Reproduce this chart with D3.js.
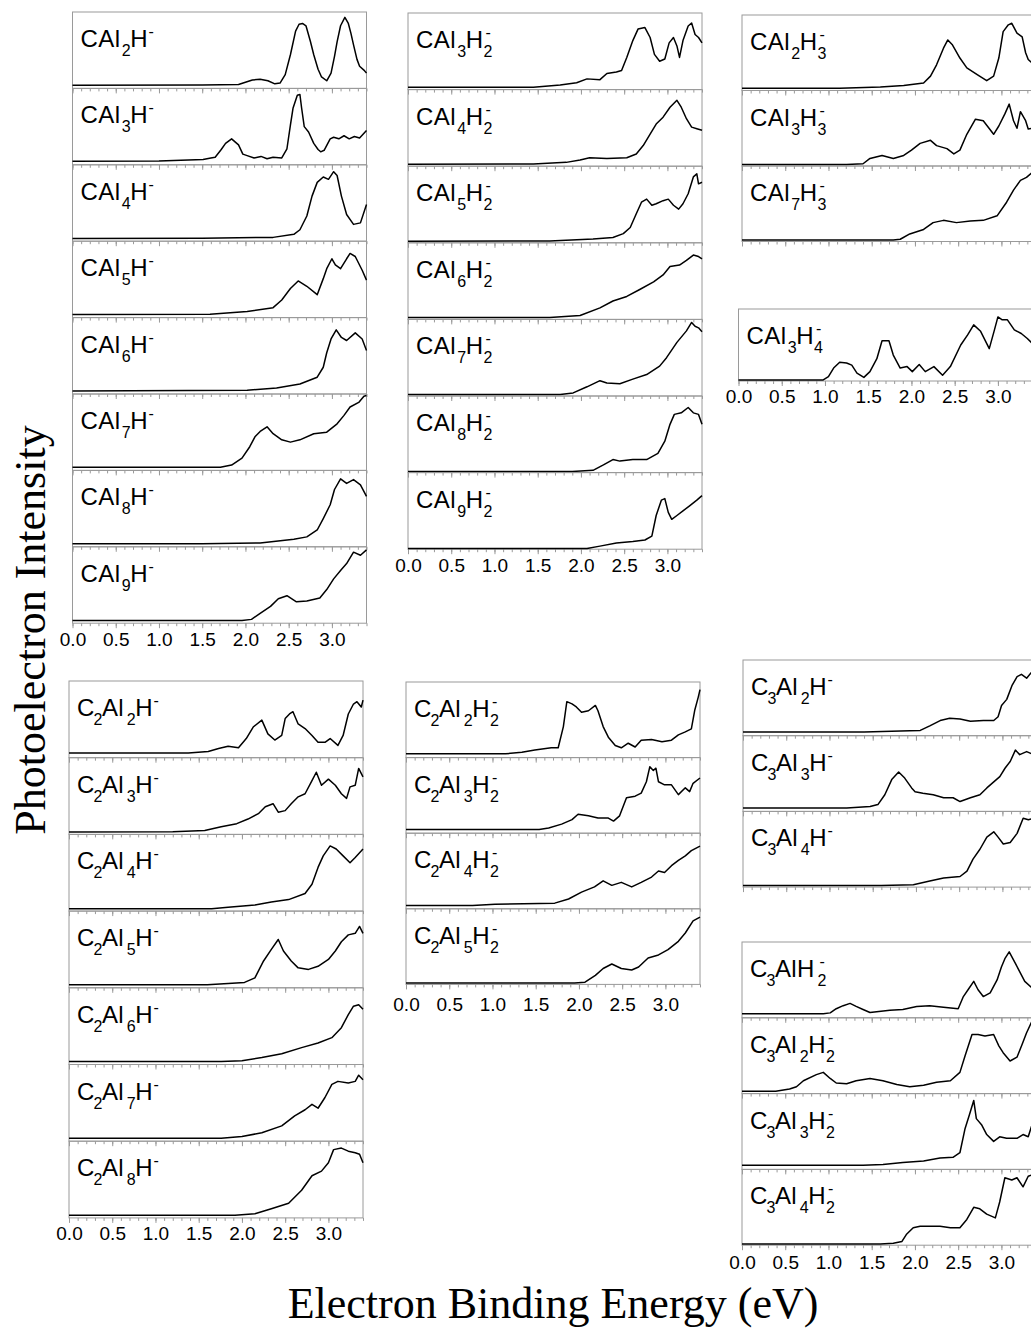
<!DOCTYPE html>
<html>
<head>
<meta charset="utf-8">
<script src="https://cdn.jsdelivr.net/npm/d3@7"></script>
<style>
  body { margin: 0; background: #fff; }
  svg { display: block; }
</style>
</head>
<body>
<svg id="chart"></svg>
<script>
// spectra: [binding energy (eV), relative intensity]
var cal2h = [[0,0.04],[1.5,0.045],[1.92,0.05],[2.0,0.08],[2.08,0.11],[2.17,0.12],[2.26,0.1],[2.34,0.06],[2.4,0.07],[2.46,0.18],[2.52,0.44],[2.58,0.75],[2.62,0.84],[2.66,0.85],[2.7,0.82],[2.75,0.62],[2.79,0.44],[2.84,0.25],[2.88,0.15],[2.94,0.1],[2.99,0.2],[3.03,0.42],[3.06,0.61],[3.1,0.82],[3.15,0.93],[3.19,0.85],[3.22,0.72],[3.25,0.57],[3.29,0.38],[3.32,0.29],[3.37,0.24],[3.4,0.2]];
var cal3h = [[0,0.045],[1.0,0.05],[1.51,0.07],[1.6,0.09],[1.65,0.1],[1.72,0.2],[1.77,0.28],[1.84,0.34],[1.88,0.3],[1.92,0.26],[1.97,0.14],[2.02,0.12],[2.1,0.09],[2.18,0.11],[2.25,0.08],[2.32,0.1],[2.42,0.09],[2.48,0.21],[2.52,0.52],[2.55,0.74],[2.6,0.91],[2.63,0.92],[2.65,0.74],[2.68,0.5],[2.73,0.43],[2.79,0.28],[2.84,0.2],[2.87,0.17],[2.91,0.19],[2.98,0.34],[3.02,0.36],[3.08,0.34],[3.14,0.38],[3.2,0.34],[3.26,0.37],[3.32,0.35],[3.4,0.45]];
var cal4h = [[0,0.035],[1.5,0.04],[2.32,0.05],[2.56,0.09],[2.63,0.15],[2.71,0.33],[2.77,0.59],[2.83,0.77],[2.9,0.84],[2.96,0.81],[3.02,0.91],[3.06,0.86],[3.11,0.59],[3.17,0.35],[3.25,0.22],[3.33,0.24],[3.4,0.48]];
var cal5h = [[0,0.04],[1.59,0.045],[2.02,0.08],[2.32,0.13],[2.42,0.23],[2.52,0.38],[2.61,0.48],[2.71,0.41],[2.83,0.3],[2.9,0.51],[2.94,0.64],[3.0,0.77],[3.04,0.69],[3.1,0.64],[3.17,0.77],[3.21,0.84],[3.27,0.8],[3.35,0.62],[3.4,0.49]];
var cal6h = [[0,0.04],[2.02,0.05],[2.36,0.08],[2.63,0.13],[2.83,0.22],[2.9,0.35],[2.94,0.54],[2.99,0.72],[3.05,0.84],[3.11,0.74],[3.17,0.7],[3.27,0.8],[3.35,0.72],[3.4,0.57]];
var cal7h = [[0,0.04],[1.71,0.04],[1.84,0.07],[1.96,0.16],[2.05,0.31],[2.11,0.44],[2.17,0.51],[2.25,0.57],[2.32,0.48],[2.42,0.4],[2.52,0.37],[2.63,0.4],[2.79,0.48],[2.94,0.5],[3.06,0.61],[3.14,0.72],[3.21,0.83],[3.31,0.89],[3.37,0.97],[3.4,0.98]];
var cal8h = [[0,0.04],[1.5,0.04],[2.17,0.05],[2.56,0.1],[2.71,0.13],[2.83,0.22],[2.9,0.37],[2.98,0.55],[3.03,0.75],[3.1,0.89],[3.17,0.83],[3.25,0.88],[3.33,0.81],[3.4,0.66]];
var cal9h = [[0,0.035],[1.96,0.035],[2.07,0.05],[2.17,0.13],[2.29,0.22],[2.38,0.32],[2.48,0.36],[2.59,0.28],[2.71,0.29],[2.86,0.33],[2.94,0.44],[3.02,0.58],[3.1,0.69],[3.17,0.78],[3.25,0.93],[3.33,0.89],[3.4,0.96]];

var cal3h2 = [[0,0.03],[1.45,0.03],[1.76,0.06],[1.95,0.09],[2.07,0.14],[2.22,0.13],[2.3,0.21],[2.41,0.23],[2.47,0.25],[2.53,0.42],[2.6,0.64],[2.66,0.79],[2.74,0.81],[2.8,0.68],[2.85,0.46],[2.91,0.37],[2.97,0.4],[3.02,0.61],[3.07,0.68],[3.11,0.57],[3.14,0.42],[3.18,0.64],[3.24,0.83],[3.28,0.87],[3.32,0.72],[3.36,0.68],[3.4,0.61]];
var cal4h2 = [[0,0.025],[1.45,0.03],[1.83,0.05],[1.99,0.08],[2.1,0.11],[2.3,0.1],[2.53,0.11],[2.64,0.16],[2.72,0.27],[2.8,0.42],[2.87,0.55],[2.95,0.64],[3.03,0.77],[3.11,0.86],[3.16,0.77],[3.22,0.62],[3.28,0.51],[3.34,0.49],[3.4,0.47]];
var cal5h2 = [[0,0.02],[1.64,0.025],[2.14,0.05],[2.37,0.07],[2.49,0.12],[2.57,0.2],[2.64,0.38],[2.7,0.53],[2.76,0.57],[2.82,0.49],[2.87,0.51],[2.95,0.55],[3.01,0.57],[3.07,0.49],[3.13,0.44],[3.18,0.51],[3.24,0.64],[3.3,0.86],[3.34,0.9],[3.36,0.77],[3.4,0.79]];
var cal6h2 = [[0,0.025],[1.64,0.025],[1.99,0.05],[2.22,0.15],[2.37,0.24],[2.53,0.3],[2.68,0.39],[2.84,0.49],[2.95,0.58],[3.03,0.69],[3.14,0.71],[3.22,0.77],[3.3,0.84],[3.36,0.82],[3.4,0.79]];
var cal7h2 = [[0,0.02],[1.76,0.02],[1.91,0.04],[2.07,0.12],[2.22,0.2],[2.3,0.17],[2.45,0.16],[2.6,0.22],[2.76,0.28],[2.91,0.39],[2.99,0.5],[3.11,0.7],[3.22,0.85],[3.28,0.96],[3.32,0.91],[3.36,0.89],[3.4,0.84]];
var cal8h2 = [[0,0.015],[1.9,0.015],[2.14,0.03],[2.26,0.1],[2.37,0.17],[2.45,0.15],[2.6,0.17],[2.76,0.17],[2.89,0.25],[2.97,0.41],[3.03,0.63],[3.08,0.76],[3.16,0.78],[3.24,0.85],[3.3,0.78],[3.36,0.76],[3.4,0.63]];
var cal9h2 = [[0,0.01],[2.07,0.01],[2.22,0.04],[2.41,0.08],[2.6,0.1],[2.74,0.12],[2.82,0.17],[2.87,0.44],[2.93,0.64],[2.97,0.66],[3.01,0.48],[3.05,0.39],[3.11,0.44],[3.18,0.5],[3.26,0.57],[3.34,0.64],[3.4,0.7]];

var cal2h3 = [[0,0.03],[1.13,0.03],[1.6,0.045],[1.87,0.065],[2.1,0.1],[2.18,0.19],[2.25,0.34],[2.33,0.56],[2.38,0.67],[2.43,0.61],[2.52,0.43],[2.6,0.3],[2.72,0.21],[2.83,0.13],[2.91,0.19],[2.97,0.43],[3.02,0.78],[3.08,0.87],[3.12,0.89],[3.18,0.76],[3.24,0.71],[3.28,0.5],[3.31,0.41],[3.36,0.36]];
var cal3h3 = [[0,0.02],[1.21,0.02],[1.4,0.03],[1.48,0.1],[1.62,0.14],[1.75,0.1],[1.87,0.14],[1.96,0.21],[2.06,0.3],[2.18,0.34],[2.25,0.27],[2.37,0.23],[2.45,0.16],[2.52,0.21],[2.6,0.42],[2.7,0.62],[2.79,0.6],[2.85,0.51],[2.91,0.42],[2.97,0.53],[3.04,0.69],[3.09,0.82],[3.14,0.6],[3.18,0.5],[3.22,0.72],[3.28,0.6],[3.31,0.49],[3.36,0.5]];
var cal7h3 = [[0,0.02],[1.75,0.02],[1.83,0.03],[1.94,0.1],[2.1,0.16],[2.21,0.25],[2.33,0.28],[2.48,0.25],[2.64,0.27],[2.79,0.28],[2.95,0.34],[3.06,0.52],[3.14,0.68],[3.22,0.81],[3.29,0.85],[3.36,0.92]];
var cal3h4 = [[0,0.015],[0.98,0.015],[1.04,0.06],[1.1,0.18],[1.17,0.26],[1.25,0.25],[1.31,0.22],[1.37,0.11],[1.45,0.05],[1.52,0.13],[1.6,0.31],[1.66,0.56],[1.74,0.56],[1.79,0.36],[1.87,0.18],[1.95,0.2],[2.01,0.13],[2.09,0.23],[2.16,0.13],[2.26,0.2],[2.36,0.08],[2.45,0.2],[2.57,0.5],[2.65,0.64],[2.72,0.78],[2.8,0.69],[2.9,0.45],[2.96,0.71],[3.0,0.89],[3.05,0.85],[3.11,0.85],[3.19,0.71],[3.27,0.66],[3.34,0.59],[3.4,0.52]];

var c2al2h = [[0,0.06],[1.38,0.06],[1.61,0.08],[1.73,0.12],[1.84,0.15],[1.96,0.13],[2.05,0.25],[2.13,0.4],[2.23,0.49],[2.3,0.31],[2.38,0.23],[2.46,0.29],[2.5,0.51],[2.55,0.57],[2.59,0.6],[2.65,0.44],[2.73,0.38],[2.81,0.29],[2.88,0.2],[2.96,0.2],[3.02,0.25],[3.11,0.16],[3.17,0.29],[3.23,0.57],[3.29,0.7],[3.33,0.73],[3.38,0.66],[3.4,0.75]];
var c2al3h = [[0,0.03],[1.2,0.035],[1.57,0.05],[1.76,0.1],[1.94,0.14],[2.07,0.2],[2.19,0.27],[2.27,0.36],[2.36,0.4],[2.42,0.29],[2.5,0.31],[2.57,0.4],[2.65,0.49],[2.73,0.53],[2.81,0.7],[2.86,0.81],[2.92,0.64],[3.0,0.72],[3.08,0.64],[3.15,0.53],[3.21,0.47],[3.25,0.62],[3.31,0.64],[3.35,0.86],[3.4,0.75]];
var c2al4h = [[0,0.03],[1.65,0.03],[1.84,0.05],[2.15,0.08],[2.34,0.12],[2.54,0.15],[2.73,0.23],[2.81,0.35],[2.88,0.57],[2.94,0.72],[3.02,0.85],[3.09,0.81],[3.17,0.72],[3.25,0.63],[3.31,0.7],[3.4,0.81]];
var c2al5h = [[0,0.04],[1.6,0.04],[1.84,0.055],[2.03,0.07],[2.15,0.13],[2.25,0.35],[2.34,0.5],[2.42,0.63],[2.48,0.48],[2.57,0.35],[2.65,0.26],[2.77,0.24],[2.88,0.28],[3.0,0.37],[3.08,0.48],[3.15,0.6],[3.23,0.69],[3.31,0.71],[3.36,0.8],[3.4,0.71]];
var c2al6h = [[0,0.04],[1.76,0.04],[2.0,0.05],[2.23,0.09],[2.46,0.14],[2.69,0.22],[2.88,0.28],[3.04,0.35],[3.15,0.48],[3.23,0.65],[3.29,0.76],[3.35,0.78],[3.4,0.72]];
var c2al7h = [[0,0.04],[1.76,0.04],[2.0,0.06],[2.23,0.11],[2.46,0.2],[2.61,0.33],[2.73,0.41],[2.81,0.48],[2.88,0.43],[2.96,0.57],[3.04,0.74],[3.11,0.78],[3.23,0.76],[3.31,0.78],[3.35,0.86],[3.4,0.8]];
var c2al8h = [[0,0.035],[1.92,0.035],[2.15,0.055],[2.34,0.12],[2.54,0.19],[2.69,0.36],[2.81,0.55],[2.92,0.61],[3.0,0.72],[3.06,0.89],[3.15,0.91],[3.23,0.87],[3.31,0.85],[3.36,0.83],[3.4,0.72]];

var c2al2h2 = [[0,0.05],[1.15,0.05],[1.34,0.07],[1.49,0.1],[1.68,0.13],[1.76,0.13],[1.82,0.41],[1.86,0.74],[1.92,0.71],[1.97,0.67],[2.03,0.6],[2.11,0.62],[2.19,0.69],[2.22,0.62],[2.28,0.41],[2.34,0.27],[2.42,0.16],[2.49,0.13],[2.57,0.19],[2.65,0.14],[2.72,0.23],[2.84,0.24],[2.96,0.21],[3.07,0.23],[3.15,0.3],[3.23,0.34],[3.3,0.38],[3.34,0.63],[3.38,0.8],[3.4,0.9]];
var c2al3h2 = [[0,0.05],[1.54,0.05],[1.65,0.07],[1.8,0.12],[1.92,0.18],[1.99,0.25],[2.11,0.23],[2.22,0.2],[2.34,0.2],[2.4,0.16],[2.47,0.23],[2.55,0.47],[2.65,0.49],[2.72,0.53],[2.78,0.68],[2.82,0.88],[2.86,0.83],[2.89,0.86],[2.92,0.68],[2.99,0.64],[3.07,0.64],[3.15,0.51],[3.23,0.6],[3.28,0.55],[3.32,0.66],[3.4,0.73]];
var c2al4h2 = [[0,0.045],[0.77,0.045],[1.03,0.06],[1.72,0.075],[1.88,0.13],[2.03,0.22],[2.18,0.29],[2.28,0.37],[2.38,0.31],[2.49,0.35],[2.61,0.29],[2.72,0.35],[2.84,0.42],[2.92,0.5],[2.99,0.48],[3.07,0.57],[3.15,0.64],[3.23,0.7],[3.3,0.77],[3.4,0.83]];
var c2al5h2 = [[0,0.02],[1.95,0.02],[2.07,0.03],[2.19,0.12],[2.28,0.21],[2.38,0.27],[2.49,0.21],[2.61,0.19],[2.69,0.23],[2.8,0.35],[2.92,0.39],[3.03,0.46],[3.15,0.57],[3.23,0.68],[3.32,0.84],[3.4,0.89]];

var c3al2h = [[0,0.05],[1.4,0.05],[1.93,0.065],[2.05,0.07],[2.16,0.13],[2.28,0.2],[2.39,0.23],[2.51,0.22],[2.63,0.19],[2.78,0.2],[2.9,0.2],[2.95,0.25],[2.99,0.4],[3.05,0.48],[3.11,0.66],[3.17,0.78],[3.22,0.81],[3.28,0.76],[3.33,0.83],[3.4,0.8]];
var c3al3h = [[0,0.045],[1.2,0.045],[1.47,0.065],[1.56,0.09],[1.64,0.22],[1.72,0.42],[1.8,0.52],[1.87,0.44],[1.95,0.31],[1.99,0.26],[2.08,0.24],[2.2,0.22],[2.32,0.18],[2.43,0.18],[2.51,0.13],[2.63,0.18],[2.74,0.22],[2.82,0.31],[2.9,0.39],[2.97,0.46],[3.03,0.57],[3.09,0.66],[3.15,0.81],[3.2,0.75],[3.28,0.79],[3.36,0.75]];
var c3al4h = [[0,0.02],[1.6,0.02],[1.97,0.03],[2.16,0.08],[2.32,0.12],[2.51,0.14],[2.59,0.21],[2.66,0.37],[2.74,0.5],[2.82,0.66],[2.9,0.73],[2.95,0.66],[3.01,0.57],[3.09,0.59],[3.17,0.71],[3.24,0.91],[3.3,0.89],[3.36,0.91]];

var c3alh2 = [[0,0.055],[0.94,0.055],[1.02,0.065],[1.09,0.12],[1.17,0.16],[1.25,0.19],[1.32,0.15],[1.4,0.11],[1.48,0.07],[1.71,0.1],[1.86,0.11],[2.02,0.15],[2.17,0.16],[2.33,0.14],[2.5,0.12],[2.56,0.28],[2.62,0.38],[2.68,0.48],[2.73,0.37],[2.79,0.28],[2.87,0.33],[2.95,0.5],[3.0,0.67],[3.04,0.78],[3.09,0.87],[3.16,0.72],[3.22,0.59],[3.27,0.48],[3.36,0.39]];
var c3al2h2 = [[0,0.03],[0.39,0.03],[0.55,0.06],[0.63,0.09],[0.71,0.17],[0.86,0.25],[0.94,0.28],[1.02,0.2],[1.09,0.14],[1.21,0.13],[1.32,0.17],[1.48,0.2],[1.63,0.17],[1.79,0.12],[1.94,0.09],[2.1,0.11],[2.25,0.15],[2.41,0.17],[2.52,0.28],[2.58,0.5],[2.66,0.78],[2.73,0.78],[2.81,0.76],[2.91,0.78],[2.97,0.63],[3.02,0.54],[3.1,0.43],[3.18,0.48],[3.24,0.65],[3.29,0.8],[3.36,0.97]];
var c3al3h2 = [[0,0.055],[1.4,0.055],[1.63,0.065],[1.86,0.09],[2.1,0.11],[2.29,0.15],[2.44,0.16],[2.52,0.22],[2.58,0.54],[2.63,0.72],[2.68,0.91],[2.71,0.67],[2.77,0.59],[2.83,0.46],[2.91,0.37],[2.98,0.43],[3.06,0.41],[3.18,0.41],[3.25,0.46],[3.31,0.43],[3.36,0.61]];
var c3al4h2 = [[0,0.015],[1.6,0.015],[1.75,0.025],[1.85,0.05],[1.9,0.14],[1.98,0.23],[2.06,0.25],[2.17,0.25],[2.29,0.25],[2.41,0.23],[2.52,0.23],[2.6,0.34],[2.68,0.5],[2.75,0.48],[2.83,0.41],[2.93,0.36],[2.98,0.57],[3.04,0.89],[3.12,0.86],[3.18,0.89],[3.25,0.77],[3.31,0.91],[3.36,0.93]];

// panel names (_ = subscript, ^ = superscript) and tick labels
var namesCAlH  = ["CAl_2H^-","CAl_3H^-","CAl_4H^-","CAl_5H^-","CAl_6H^-","CAl_7H^-","CAl_8H^-","CAl_9H^-"];
var namesCAlH2 = ["CAl_3H_2^-","CAl_4H_2^-","CAl_5H_2^-","CAl_6H_2^-","CAl_7H_2^-","CAl_8H_2^-","CAl_9H_2^-"];
var namesCAlH3 = ["CAl_2H_3^-","CAl_3H_3^-","CAl_7H_3^-"];
var namesCAlH4 = ["CAl_3H_4^-"];
var namesC2AlH  = ["C_2Al_2H^-","C_2Al_3H^-","C_2Al_4H^-","C_2Al_5H^-","C_2Al_6H^-","C_2Al_7H^-","C_2Al_8H^-"];
var namesC2AlH2 = ["C_2Al_2H_2^-","C_2Al_3H_2^-","C_2Al_4H_2^-","C_2Al_5H_2^-"];
var namesC3AlH  = ["C_3Al_2H^-","C_3Al_3H^-","C_3Al_4H^-"];
var namesC3AlH2 = ["C_3AlH_2^-","C_3Al_2H_2^-","C_3Al_3H_2^-","C_3Al_4H_2^-"];
var tickLabels = [0, 0.5, 1.0, 1.5, 2.0, 2.5, 3.0];

var spectra = {
  "CAl_2H^-": cal2h, "CAl_3H^-": cal3h, "CAl_4H^-": cal4h, "CAl_5H^-": cal5h,
  "CAl_6H^-": cal6h, "CAl_7H^-": cal7h, "CAl_8H^-": cal8h, "CAl_9H^-": cal9h,
  "CAl_3H_2^-": cal3h2, "CAl_4H_2^-": cal4h2, "CAl_5H_2^-": cal5h2, "CAl_6H_2^-": cal6h2,
  "CAl_7H_2^-": cal7h2, "CAl_8H_2^-": cal8h2, "CAl_9H_2^-": cal9h2,
  "CAl_2H_3^-": cal2h3, "CAl_3H_3^-": cal3h3, "CAl_7H_3^-": cal7h3, "CAl_3H_4^-": cal3h4,
  "C_2Al_2H^-": c2al2h, "C_2Al_3H^-": c2al3h, "C_2Al_4H^-": c2al4h, "C_2Al_5H^-": c2al5h,
  "C_2Al_6H^-": c2al6h, "C_2Al_7H^-": c2al7h, "C_2Al_8H^-": c2al8h,
  "C_2Al_2H_2^-": c2al2h2, "C_2Al_3H_2^-": c2al3h2, "C_2Al_4H_2^-": c2al4h2, "C_2Al_5H_2^-": c2al5h2,
  "C_3Al_2H^-": c3al2h, "C_3Al_3H^-": c3al3h, "C_3Al_4H^-": c3al4h,
  "C_3AlH_2^-": c3alh2, "C_3Al_2H_2^-": c3al2h2, "C_3Al_3H_2^-": c3al3h2, "C_3Al_4H_2^-": c3al4h2
};

var width = 1031, height = 1332;
var panelW = 294;
var frameColor = "#9a9a9a";

var svg = d3.select("#chart")
  .attr("width", width)
  .attr("height", height);

// stacks of panels: left edge, top, panel height, names, padding of the eV labels (0 = none)
var stacks = [
  {x: 72.5, y: 12,  h: 76.4, names: namesCAlH,   pad: 9},
  {x: 408,  y: 13,  h: 76.6, names: namesCAlH2,  pad: 9},
  {x: 742,  y: 15,  h: 75.5, names: namesCAlH3,  pad: 0},
  {x: 738.5,y: 309, h: 72,   names: namesCAlH4,  pad: 9},
  {x: 69,   y: 681, h: 76.7, names: namesC2AlH,  pad: 9},
  {x: 406,  y: 682, h: 75.6, names: namesC2AlH2, pad: 13},
  {x: 743,  y: 660, h: 75.7, names: namesC3AlH,  pad: 0},
  {x: 742,  y: 942, h: 75.8, names: namesC3AlH2, pad: 10}
];

function drawName(x, y, str) {
  var g = svg.append("g").attr("class", "name");
  var re = /([A-Za-z]+)|_(\d)|\^(-)/g, m, cx = x, subX = null;
  while ((m = re.exec(str)) !== null) {
    var t;
    if (m[1]) {
      t = g.append("text").attr("x", cx).attr("y", y)
        .style("font-size", "24px").style("letter-spacing", "0.4px").text(m[1]);
      cx += t.node().getComputedTextLength();
      subX = null;
    } else if (m[2]) {
      t = g.append("text").attr("x", cx).attr("y", y + 9)
        .style("font-size", "16px").text(m[2]);
      subX = cx;
      cx += t.node().getComputedTextLength() + 0.5;
    } else {
      var px = subX !== null ? subX + 2 : cx + 0.5;
      t = g.append("text").attr("x", px).attr("y", y - 10)
        .style("font-size", "16px").text("-");
      if (subX === null) cx += t.node().getComputedTextLength();
    }
  }
  g.selectAll("text").style("font-family", "'Liberation Sans', Arial, sans-serif").attr("fill", "#000");
}

stacks.forEach(function(s) {
  var x = d3.scaleLinear().domain([0, 3.4]).range([s.x, s.x + panelW]);
  s.names.forEach(function(name, i) {
    var top = s.y + i * s.h, bottom = top + s.h;
    var y = d3.scaleLinear().domain([0, 1]).range([bottom, top]);

    svg.append("rect")
      .attr("x", s.x).attr("y", top)
      .attr("width", panelW).attr("height", s.h)
      .attr("fill", "none")
      .attr("stroke", frameColor)
      .attr("stroke-width", 1);

    // minor ticks every 0.1 eV, longer ones every 0.5 eV
    var minor = svg.append("g")
      .attr("transform", "translate(0," + bottom + ")")
      .call(d3.axisBottom(x).tickValues(d3.range(0, 35).map(function(k) { return k / 10; }))
        .tickSize(3).tickFormat(""));
    var major = svg.append("g")
      .attr("transform", "translate(0," + bottom + ")")
      .call(d3.axisBottom(x).tickValues(tickLabels).tickSize(5).tickFormat(""));
    [minor, major].forEach(function(a) {
      a.select(".domain").remove();
      a.selectAll("line").attr("stroke", frameColor);
    });

    svg.append("path")
      .datum(spectra[name])
      .attr("fill", "none")
      .attr("stroke", "#000")
      .attr("stroke-width", 1.5)
      .attr("stroke-linejoin", "round")
      .attr("d", d3.line().x(function(d) { return x(d[0]); }).y(function(d) { return y(d[1]); }));

    drawName(s.x + 8, top + 35, name);
  });

  if (s.pad) {
    var bottomAll = s.y + s.names.length * s.h;
    var lab = svg.append("g")
      .attr("transform", "translate(0," + bottomAll + ")")
      .call(d3.axisBottom(x).tickValues(tickLabels).tickSize(0).tickPadding(s.pad)
        .tickFormat(d3.format(".1f")));
    lab.select(".domain").remove();
    lab.selectAll("text")
      .style("font-family", "'Liberation Sans', Arial, sans-serif")
      .style("font-size", "19px")
      .attr("fill", "#000");
  }
});

// axis titles
svg.append("text")
  .attr("transform", "translate(45,630) rotate(-90)")
  .attr("text-anchor", "middle")
  .style("font-family", "'Liberation Serif', 'Times New Roman', serif")
  .style("font-size", "44px")
  .text("Photoelectron Intensity");

svg.append("text")
  .attr("x", 553).attr("y", 1318)
  .attr("text-anchor", "middle")
  .style("font-family", "'Liberation Serif', 'Times New Roman', serif")
  .style("font-size", "44px")
  .text("Electron Binding Energy (eV)");
</script>
</body>
</html>
